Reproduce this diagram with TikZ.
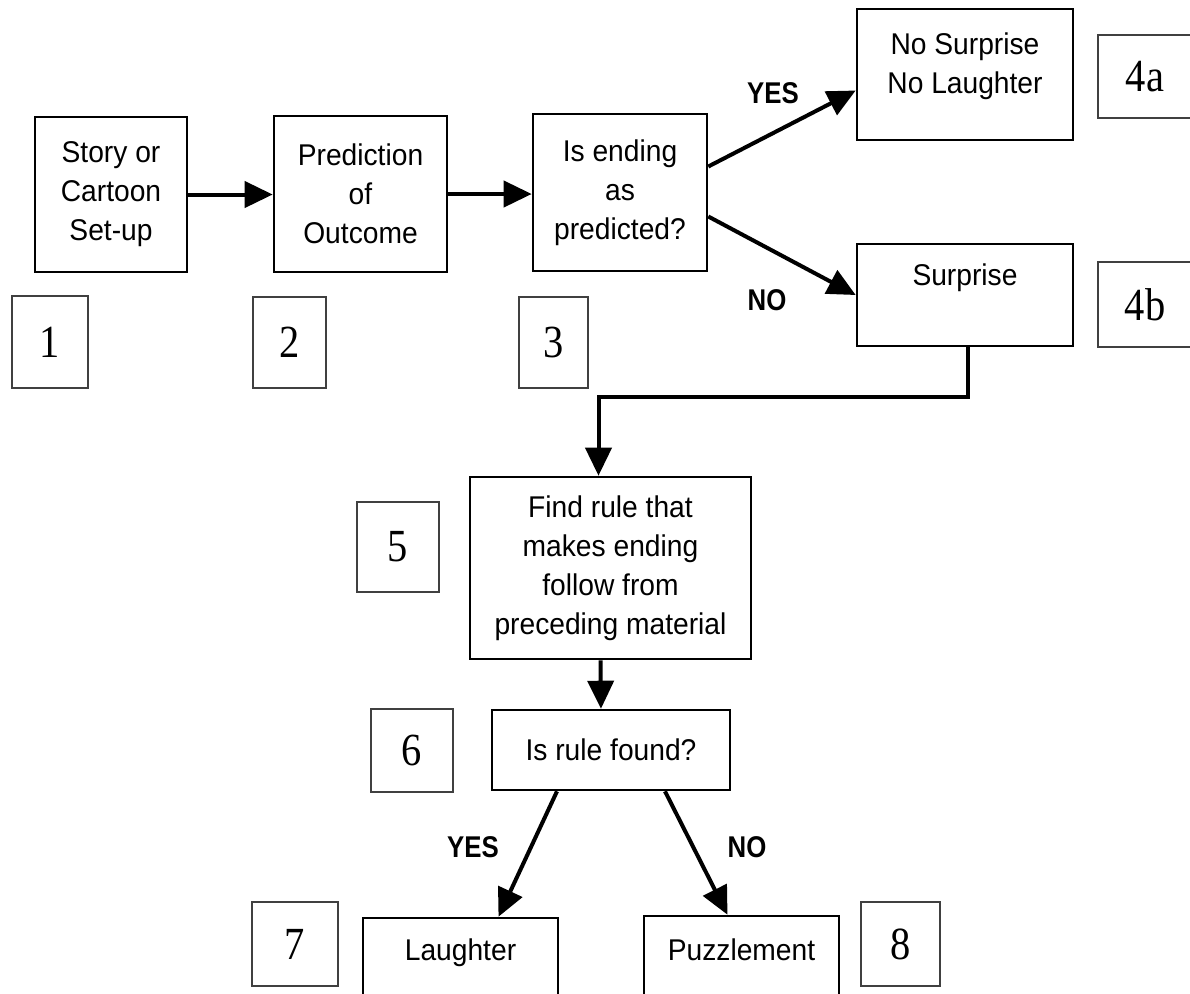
\documentclass[tikz,border=0pt]{standalone}
\usepackage{fontspec}
\setmainfont{Liberation Sans}[FakeStretch=0.94]
\newfontfamily\numfont{Liberation Serif}[FakeStretch=0.88]
\newfontfamily\repfont{Liberation Sans}[FakeStretch=0.86]
\usetikzlibrary{arrows.meta}

\begin{document}
\begin{tikzpicture}[x=0.5pt, y=-0.5pt, >={Triangle[length=14pt, width=13pt]}]
\tikzstyle{etape} = [draw, line width=1.3pt, align=center, inner sep=0pt, font=\fontsize{15}{19.5}\selectfont];
\tikzstyle{numero} = [draw=black!75, line width=0.8pt, inner sep=0pt, font=\numfont\fontsize{23}{23}\selectfont];
\tikzstyle{fleche} = [->, line width=2pt];
\tikzstyle{reponse} = [font=\repfont\bfseries\fontsize{15}{15}\selectfont];
\useasboundingbox (0,0) rectangle (1190,993);
\clip (0,0) rectangle (1190,993);

\node[etape, minimum width=76pt, minimum height=77.5pt] (story) at (111,194.5) {Story or\\Cartoon\\Set-up};
\node[etape, minimum width=86.5pt, minimum height=78pt] (pred) at (360.5,194) {Prediction\\of\\Outcome};
\node[etape, minimum width=87pt, minimum height=78.5pt] (test) at (620,192.5) {Is ending\\as\\predicted?};
\node[etape, minimum width=108pt, minimum height=65.5pt, text height=22.3pt, text depth=3pt] (nosurp) at (965,74.5) {No Surprise\\No Laughter};
\node[etape, minimum width=108pt, minimum height=51pt, text height=11pt, text depth=20.2pt] (surp) at (965,295) {Surprise};
\node[etape, minimum width=140.5pt, minimum height=91pt] (rule) at (610.5,568) {Find rule that\\makes ending\\follow from\\preceding material};
\node[etape, minimum width=119pt, minimum height=40pt] (found) at (611,750) {Is rule found?};
\node[etape, minimum width=97.5pt, minimum height=41pt, text height=11pt, text depth=9.2pt] (laugh) at (460.5,959) {Laughter};
\node[etape, minimum width=97.5pt, minimum height=42pt, text height=11pt, text depth=8.2pt] (puzz) at (741.5,958) {Puzzlement};

\node[numero, minimum width=38pt, minimum height=46pt] (n1) at (50,342) {1};
\node[numero, minimum width=36.5pt, minimum height=45.5pt] (n2) at (289.5,342.5) {2};
\node[numero, minimum width=34.5pt, minimum height=45.5pt] (n3) at (553.5,342.5) {3};
\node[numero, minimum width=47pt, minimum height=41.5pt] (n4a) at (1145,76.5) {4a};
\node[numero, minimum width=47pt, minimum height=42.5pt] (n4b) at (1145,304.5) {4b};
\node[numero, minimum width=41pt, minimum height=45pt] (n5) at (398,547) {5};
\node[numero, minimum width=41pt, minimum height=41.5pt] (n6) at (412,750.5) {6};
\node[numero, minimum width=43pt, minimum height=42pt] (n7) at (295,944) {7};
\node[numero, minimum width=39.5pt, minimum height=42pt] (n8) at (900.5,944) {8};

\node[reponse] (oui1) at (773,93) {YES};
\node[reponse] (non1) at (767,300) {NO};
\node[reponse] (oui2) at (473,847) {YES};
\node[reponse] (non2) at (747,847) {NO};

\draw[fleche] (story.east) -- (story.east -| pred.west);
\draw[fleche] (pred.east) -- (pred.east -| test.west);
\draw[fleche] ([yshift=13pt]test.east) -- ([yshift=-8pt]nosurp.west);
\draw[fleche] ([yshift=-12pt]test.east) -- (surp.west);
\draw[fleche] ([xshift=1.5pt]surp.south) -- ++(0,50) -| ([xshift=-6pt]rule.north);
\draw[fleche] ([xshift=-5pt]rule.south) -- ([xshift=-5pt]found.north);
\draw[fleche] ([xshift=-27pt]found.south) -- ([xshift=19pt]laugh.north);
\draw[fleche] ([xshift=27pt]found.south) -- ([xshift=-7pt]puzz.north);
\end{tikzpicture}
\end{document}
